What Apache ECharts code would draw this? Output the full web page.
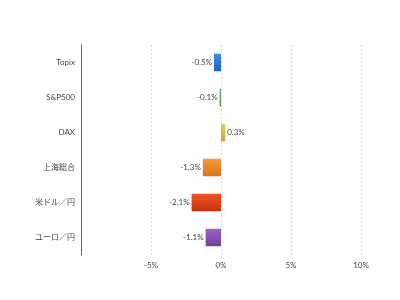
<!DOCTYPE html>
<html>
<head>
<meta charset="utf-8">
<script src="https://cdn.jsdelivr.net/npm/echarts@6/dist/echarts.min.js"></script>
<style>
  html, body { margin: 0; padding: 0; background: #fff; }
  #chart { width: 400px; height: 300px; }
</style>
</head>
<body>
<div id="chart"></div>
<script>
var categories = ['Topix', 'S&P500', 'DAX', '上海総合', '米ドル／円', 'ユーロ／円'];
var values = [-0.5, -0.1, 0.3, -1.3, -2.1, -1.1];
var barColors = [
    ['#3a8fe0', '#1f66b8'],
    ['#7ab07a', '#4a8a4a'],
    ['#e6d050', '#c4ac2a'],
    ['#f29a3a', '#d8761c'],
    ['#f05428', '#c8320e'],
    ['#9a62c4', '#7440a0']
];
var xTicks = [-10, -5, 0, 5, 10];

var fontFamily = 'Lato, "Noto Sans CJK JP", sans-serif';

var chart = echarts.init(document.getElementById('chart'));
chart.setOption({
    animation: false,
    grid: { left: 81, right: 39, top: 45, bottom: 45 },
    xAxis: {
        type: 'value',
        min: xTicks[0],
        max: xTicks[xTicks.length - 1],
        interval: 5,
        axisLine: { show: false },
        axisTick: { show: false },
        axisLabel: {
            color: '#444',
            fontSize: 8,
            fontFamily: fontFamily,
            margin: 6,
            showMinLabel: false,
            formatter: function (v) { return v + '%'; }
        },
        splitLine: { lineStyle: { color: '#d8d8d8', type: [2, 2] } }
    },
    yAxis: {
        type: 'category',
        inverse: true,
        data: categories,
        axisLine: { onZero: false, lineStyle: { color: '#666', width: 1 } },
        axisTick: { show: false },
        axisLabel: { color: '#444', fontSize: 8, fontFamily: fontFamily, margin: 6 }
    },
    series: [{
        type: 'bar',
        barCategoryGap: '50%',
        data: values.map(function (v, i) {
            return {
                value: v,
                itemStyle: {
                    color: new echarts.graphic.LinearGradient(0, 0, 0, 1, [
                        { offset: 0, color: barColors[i][0] },
                        { offset: 1, color: barColors[i][1] }
                    ])
                },
                label: { position: v < 0 ? 'left' : 'right' }
            };
        }),
        label: {
            show: true,
            color: '#444',
            fontSize: 8,
            fontFamily: fontFamily,
            distance: 2,
            formatter: function (p) { return p.value + '%'; }
        }
    }]
});
</script>
</body>
</html>
